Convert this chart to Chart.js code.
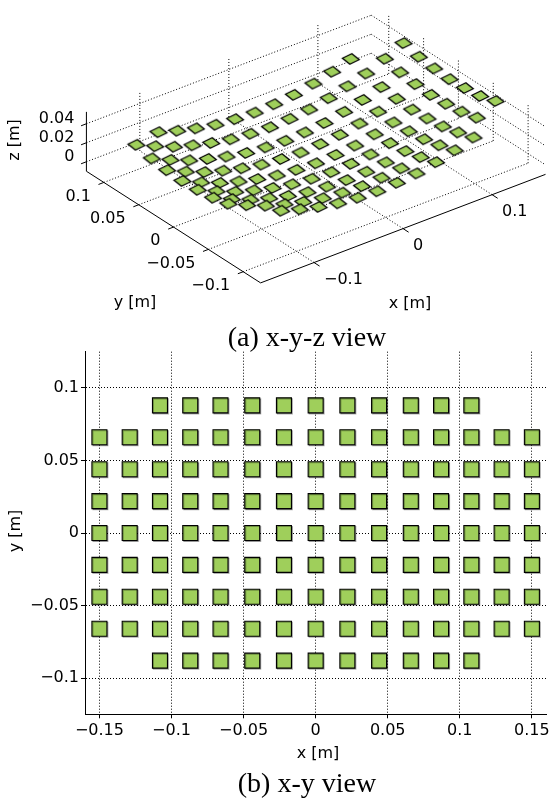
<!DOCTYPE html>
<html><head><meta charset="utf-8">
<script src="https://cdn.jsdelivr.net/npm/chart.js@4/dist/chart.umd.min.js"></script>
<style>
html,body{margin:0;padding:0;background:#fff;width:558px;height:800px;overflow:hidden;}
#top{position:absolute;left:0;top:0;width:558px;height:360px;}
#bot{position:absolute;left:0;top:340px;width:558px;height:460px;}
</style></head><body>
<div id="top"><canvas id="c1" width="558" height="360"></canvas></div>
<div id="bot"><canvas id="c2" width="558" height="460"></canvas></div>
<script>
// ---------------- data ----------------
const colX = [-0.15,-0.129,-0.108,-0.087,-0.066,-0.044,-0.022,0,0.022,0.044,0.066,0.087,0.108,0.129,0.15];
const rowY = [0.088,0.066,0.044,0.022,0,-0.022,-0.044,-0.066,-0.088];
// element height z [m] per row (null = no element)
const zRowP088 = [null,null,0.030,0.024,0.019,0.015,0.013,0.012,0.013,0.015,0.019,0.024,0.030,null,null];
const zRowP066 = [0.042,0.033,0.025,0.019,0.014,0.010,0.008,0.007,0.008,0.010,0.014,0.019,0.025,0.033,0.042];
const zRowP044 = [0.038,0.029,0.021,0.015,0.010,0.006,0.004,0.003,0.004,0.006,0.010,0.015,0.021,0.029,0.038];
const zRowP022 = [0.036,0.027,0.019,0.013,0.008,0.004,0.002,0.001,0.002,0.004,0.008,0.013,0.019,0.027,0.036];
const zRow000  = [0.035,0.026,0.018,0.012,0.007,0.003,0.001,0.000,0.001,0.003,0.007,0.012,0.018,0.026,0.035];
const zRowM022 = [0.036,0.027,0.019,0.013,0.008,0.004,0.002,0.001,0.002,0.004,0.008,0.013,0.019,0.027,0.036];
const zRowM044 = [0.038,0.029,0.021,0.015,0.010,0.006,0.004,0.003,0.004,0.006,0.010,0.015,0.021,0.029,0.038];
const zRowM066 = [0.042,0.033,0.025,0.019,0.014,0.010,0.008,0.007,0.008,0.010,0.014,0.019,0.025,0.033,0.043];
const zRowM088 = [null,null,0.030,0.024,0.019,0.015,0.013,0.012,0.013,0.015,0.019,0.024,0.030,null,null];
const zRows = [zRowP088,zRowP066,zRowP044,zRowP022,zRow000,zRowM022,zRowM044,zRowM066,zRowM088];

const xTicks2d = [-0.15,-0.1,-0.05,0,0.05,0.1,0.15];
const xTickLabels2d = ['\u22120.15','\u22120.1','\u22120.05','0','0.05','0.1','0.15'];
const yTicks2d = [-0.1,-0.05,0,0.05,0.1];
const yTickLabels2d = ['\u22120.1','\u22120.05','0','0.05','0.1'];
const xTicks3d = [-0.1,0,0.1];
const xTickLabels3d = ['\u22120.1','0','0.1'];
const yTicks3d = [-0.1,-0.05,0,0.05,0.1];
const yTickLabels3d = ['\u22120.1','\u22120.05','0','0.05','0.1'];
const zTicks3d = [0,0.02,0.04];
const zTickLabels3d = ['0','0.02','0.04'];

// ---------------- styling / view ----------------
const GREEN = '#9fcf5b';
const FONT = '16px "DejaVu Sans"';
const CAPFONT = '28px "Liberation Serif"';
const X0=-0.16, X1=0.16, Y0=-0.125, Y1=0.125, Z0=-0.01, Z1=0.0525;
const O = {x:260, y:288.3};
const EX = {x:920, y:-357}, EY = {x:-720, y:-470}, EZ = {x:0, y:-1000};
function proj(x,y,z){
  return {x: O.x + (x-X0)*EX.x + (y-Y0)*EY.x + (z-Z0)*EZ.x,
          y: O.y + (x-X0)*EX.y + (y-Y0)*EY.y + (z-Z0)*EZ.y};
}

const elems = [];
rowY.forEach((y,r)=>colX.forEach((x,c)=>{const z=zRows[r][c]; if(z!==null) elems.push({x,y,z});}));

// ---------------- 3D view ----------------
function makeDiamond(){
  const c=document.createElement('canvas'); c.width=24; c.height=16;
  const g=c.getContext('2d'); const s=0.0102/2, vs=1.25;
  const ax=EX.x*s, ay=EX.y*s*vs, bx=EY.x*s, by=EY.y*s*vs, cx=12, cy=8;
  g.beginPath();
  g.moveTo(cx+ax+bx,cy+ay+by); g.lineTo(cx+ax-bx,cy+ay-by);
  g.lineTo(cx-ax-bx,cy-ay-by); g.lineTo(cx-ax+bx,cy-ay+by); g.closePath();
  g.fillStyle=GREEN; g.fill(); g.lineWidth=1.3; g.strokeStyle='#000'; g.lineJoin='miter'; g.stroke();
  return c;
}
const pts3d = elems.slice().sort((a,b)=>(357*b.x+470*b.y)-(357*a.x+470*a.y)).map(e=>proj(e.x,e.y,e.z));

const axes3d = {
  id:'axes3d',
  beforeDatasetsDraw(chart){
    const ctx=chart.ctx, sx=chart.scales.x, sy=chart.scales.y;
    const P=(x,y,z)=>{const q=proj(x,y,z); return [sx.getPixelForValue(q.x), sy.getPixelForValue(q.y)];};
    const line=(a,b,dash)=>{ctx.save(); ctx.setLineDash(dash); ctx.lineWidth=1; ctx.strokeStyle='#000';
      ctx.beginPath(); ctx.moveTo(a[0],a[1]); ctx.lineTo(b[0],b[1]); ctx.stroke(); ctx.restore();};
    const D=[1,2];
    xTicks3d.forEach(x=>line(P(x,Y0,Z0),P(x,Y1,Z0),D));
    yTicks3d.forEach(y=>line(P(X0,y,Z0),P(X1,y,Z0),D));
    zTicks3d.forEach(z=>line(P(X0,Y1,z),P(X1,Y1,z),D));
    xTicks3d.forEach(x=>line(P(x,Y1,Z0),P(x,Y1,Z1),D));
    zTicks3d.forEach(z=>line(P(X1,Y1,z),P(X1,Y0,z),D));
    yTicks3d.forEach(y=>line(P(X1,y,Z0),P(X1,y,Z1),D));
    line(P(X0,Y1,Z0),P(X0,Y1,Z1),[]);
    line(P(X0,Y1,Z0),P(X0,Y0,Z0),[]);
    line(P(X0,Y0,Z0),P(X1,Y0,Z0),[]);
    zTicks3d.forEach(z=>line(P(X0,Y1,z),P(X0-0.006,Y1,z),[]));
    yTicks3d.forEach(y=>line(P(X0,y,Z0),P(X0-0.006,y,Z0),[]));
    xTicks3d.forEach(x=>line(P(x,Y0,Z0),P(x,Y0-0.008,Z0),[]));
  },
  afterDatasetsDraw(chart){
    const ctx=chart.ctx, sx=chart.scales.x, sy=chart.scales.y;
    const P=(x,y,z)=>{const q=proj(x,y,z); return [sx.getPixelForValue(q.x), sy.getPixelForValue(q.y)];};
    ctx.save(); ctx.fillStyle='#000'; ctx.font=FONT; ctx.textBaseline='middle';
    ctx.textAlign='right';
    zTicks3d.forEach((z,i)=>{const p=P(X0,Y1,z); ctx.fillText(zTickLabels3d[i],p[0]-12,p[1]-5);});
    yTicks3d.forEach((y,i)=>{const p=P(X0,y,Z0); ctx.fillText(yTickLabels3d[i],p[0]-13,p[1]+14);});
    ctx.textAlign='left';
    xTicks3d.forEach((x,i)=>{const p=P(x,Y0,Z0); ctx.fillText(xTickLabels3d[i],p[0]+10,p[1]+17);});
    ctx.textAlign='center';
    ctx.fillText('x [m]',410,304);
    ctx.fillText('y [m]',135,303);
    ctx.save(); ctx.translate(15,140); ctx.rotate(-Math.PI/2); ctx.fillText('z [m]',0,0); ctx.restore();
    ctx.font=CAPFONT; ctx.textBaseline='alphabetic';
    ctx.fillText('(a) x-y-z view',307,346);
    ctx.restore();
  }
};

new Chart(document.getElementById('c1'),{
  type:'scatter',
  data:{datasets:[{data:pts3d, pointStyle:makeDiamond(), pointRadius:8, pointHoverRadius:8,
        backgroundColor:GREEN, borderColor:'#000'}]},
  options:{responsive:false, animation:false, events:[], layout:{padding:0},
    plugins:{legend:{display:false},tooltip:{enabled:false}},
    scales:{x:{type:'linear',min:0,max:558,display:false},
            y:{type:'linear',min:0,max:360,reverse:true,display:false}}},
  plugins:[axes3d]
});

// ---------------- x-y view ----------------
const pts2d = elems.map(e=>({x:e.x,y:e.y}));
const labels2d = {
  id:'labels2d',
  beforeDatasetsDraw(chart){const c=chart.ctx; c.save(); c.shadowColor='rgba(0,0,0,0.3)'; c.shadowOffsetX=1; c.shadowOffsetY=1; c.shadowBlur=0.5;},
  afterDatasetsDraw(chart){chart.ctx.restore();},
  afterDraw(chart){
    const ctx=chart.ctx; ctx.save(); ctx.fillStyle='#000'; ctx.font=FONT;
    ctx.textAlign='center'; ctx.textBaseline='middle';
    ctx.fillText('x [m]',318,414);
    ctx.save(); ctx.translate(16,191); ctx.rotate(-Math.PI/2); ctx.fillText('y [m]',0,0); ctx.restore();
    ctx.font=CAPFONT; ctx.textBaseline='alphabetic';
    ctx.fillText('(b) x-y view',307,452);
    ctx.restore();
  }
};
const tickFont={family:'DejaVu Sans',size:16};
new Chart(document.getElementById('c2'),{
  type:'scatter',
  data:{datasets:[{data:pts2d, pointStyle:'rect', pointRadius:10.6, pointHoverRadius:10.6,
        backgroundColor:GREEN, borderColor:'#000', borderWidth:1.1}]},
  options:{responsive:false, animation:false, events:[],
    layout:{padding:{left:0,right:2.6,top:7.5,bottom:0}},
    plugins:{legend:{display:false},tooltip:{enabled:false}},
    scales:{
      x:{type:'linear',min:-0.16,max:0.16,
        afterBuildTicks:s=>{s.ticks=xTicks2d.map(v=>({value:v}));},
        afterFit:s=>{s.height=85.7;},
        ticks:{callback:(v,i)=>xTickLabels2d[i],color:'#000',font:tickFont,padding:3,maxRotation:0,autoSkip:false},
        grid:{color:'#000',lineWidth:1,tickLength:4,tickColor:'#000',tickWidth:1},
        border:{display:true,color:'#000',width:1,dash:[1,2]}},
      y:{type:'linear',min:-0.125,max:0.125,
        afterBuildTicks:s=>{s.ticks=yTicks2d.map(v=>({value:v}));},
        afterFit:s=>{s.width=85;},
        ticks:{callback:(v,i)=>yTickLabels2d[i],color:'#000',font:tickFont,padding:2,autoSkip:false},
        grid:{color:'#000',lineWidth:1,tickLength:4,tickColor:'#000',tickWidth:1},
        border:{display:true,color:'#000',width:1,dash:[1,2]}}
    }},
  plugins:[labels2d]
});
</script>
</body></html>
